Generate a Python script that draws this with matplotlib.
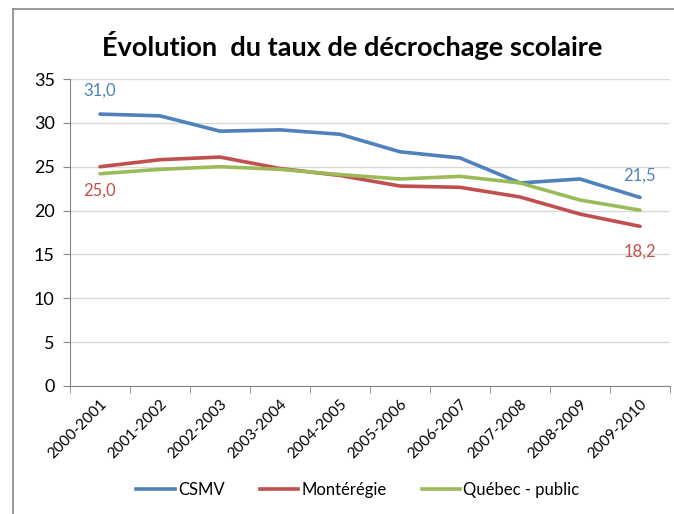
import numpy as np
import matplotlib.pyplot as plt
from matplotlib.lines import Line2D

plt.rcParams['font.family'] = ['Lato', 'DejaVu Sans']

years = ['2000-2001', '2001-2002', '2002-2003', '2003-2004', '2004-2005',
         '2005-2006', '2006-2007', '2007-2008', '2008-2009', '2009-2010']
csmv = [31.0, 30.8, 29.05, 29.2, 28.7, 26.7, 26.0, 23.15, 23.6, 21.5]
monteregie = [25.0, 25.8, 26.1, 24.8, 24.0, 22.8, 22.65, 21.55, 19.6, 18.2]
quebec = [24.2, 24.7, 25.0, 24.7, 24.1, 23.6, 23.9, 23.15, 21.2, 20.05]

names = ['CSMV', 'Montérégie', 'Québec - public']
colors = ['#4F81BD', '#C0504D', '#9BBB59']

fig = plt.figure(figsize=(6.74, 5.14), dpi=100)
ax = fig.add_axes([70 / 674, 128 / 514, 600 / 674, 307 / 514])

x = np.arange(len(years))
for vals, name, col in zip([csmv, monteregie, quebec], names, colors):
    ax.plot(x, vals, color=col, lw=2.6, label=name, solid_capstyle='round')

# data labels at the ends
def lab(i, vals, col, dy):
    ax.annotate(f'{vals[i]:.1f}'.replace('.', ','), (x[i], vals[i]),
                xytext=(0, dy), textcoords='offset points', ha='center',
                va='center', color=col, fontsize=12)

lab(0, csmv, colors[0], 17)
lab(0, monteregie, colors[1], -17)
lab(9, csmv, colors[0], 16)
lab(9, monteregie, colors[1], -18)

ax.set_ylim(0, 35)
ax.set_yticks(range(0, 36, 5))
ax.set_xlim(-0.5, 9.5)
ax.set_xticks(x)
ax.set_xticklabels(years, rotation=45, ha='right', rotation_mode='anchor', fontsize=11)
ax.set_xticks(np.arange(-0.5, 10, 1), minor=True)
ax.tick_params(axis='x', which='major', length=0, pad=8)
ax.tick_params(axis='x', which='minor', length=5, color='#868686')
ax.tick_params(axis='y', length=5, color='#868686', labelsize=13, pad=6)

ax.yaxis.grid(True, color='#d9d9d9', lw=1)
ax.set_axisbelow(True)
for s in ['top', 'right']:
    ax.spines[s].set_visible(False)
for s in ['left', 'bottom']:
    ax.spines[s].set_color('#868686')

fig.text(352 / 674, 1 - 45 / 514, 'Évolution  du taux de décrochage scolaire',
         ha='center', va='center', fontsize=19.5, fontweight='bold')

handles = [Line2D([], [], color=c, lw=2.6) for c in colors]
fig.legend(handles, names, loc='center', bbox_to_anchor=(358 / 674, 1 - 490 / 514),
           ncol=3, frameon=False, fontsize=12, handlelength=2.3,
           handletextpad=0.2, columnspacing=2.1)

# outer chart border (partially cropped)
fig.add_artist(Line2D([13 / 674, 13 / 674], [0, 1 - 9 / 514], color='#888888',
                      lw=1.2, transform=fig.transFigure))
fig.add_artist(Line2D([13 / 674, 1], [1 - 9 / 514, 1 - 9 / 514], color='#888888',
                      lw=1.2, transform=fig.transFigure))

fig.savefig('out.png', dpi=100)
